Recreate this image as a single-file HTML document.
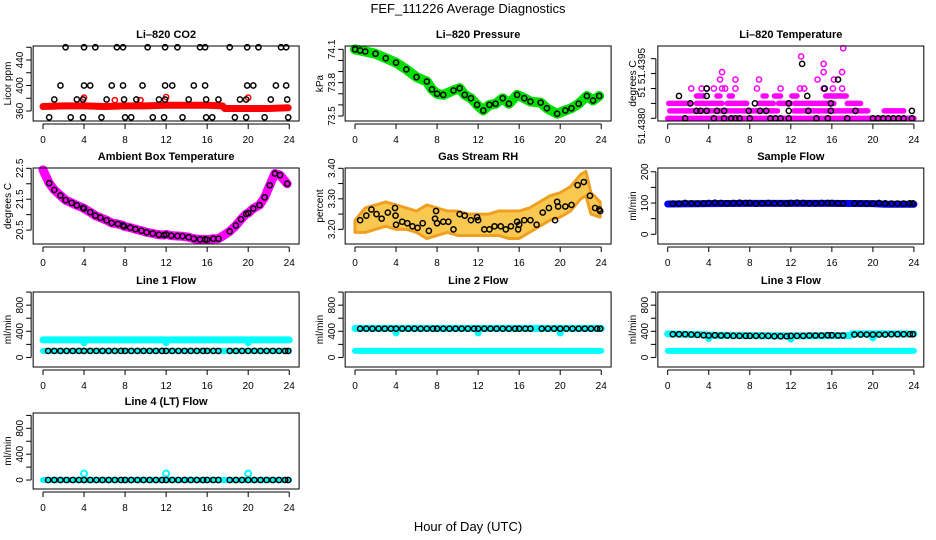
<!DOCTYPE html>
<html><head><meta charset="utf-8"><title>FEF_111226 Average Diagnostics</title>
<style>
html,body{margin:0;padding:0;background:#fff;}
svg{display:block;font-family:"Liberation Sans",sans-serif;}
</style></head>
<body>
<svg id="chart" width="936" height="540" viewBox="0 0 936 540">
<rect x="0" y="0" width="936" height="540" fill="#fff"/>
<text x="468" y="13" font-size="13" text-anchor="middle">FEF_111226  Average Diagnostics</text>
<text x="468" y="531" font-size="13" text-anchor="middle">Hour of Day (UTC)</text>
<text font-size="10" text-anchor="middle" transform="translate(645,66) rotate(-90)">51.4395</text>
<text font-size="10" text-anchor="middle" transform="translate(645,92) rotate(-90)">51</text>
<text font-size="10" text-anchor="middle" transform="translate(645,126) rotate(-90)">51.4380</text>
</svg>
<script>
// ---------- data ----------
const xTicks = [0,4,8,12,16,20,24];
// CO2
const co2BandHours = [0,2,4,6,8,10,12,14,16,17.5,17.7,20,22,23.9];
const co2BandVals  = [367,368,368,367,368,368,369,369,369,368,364,364,364,365];
const co2RedHours = [4,12,20,7.0,9.5];
const co2RedVals  = [381,382,381,377,377];
const co2BlackHours = [2.2,4.0,5.1,7.2,7.8,10.2,11.9,13.1,15.3,15.8,18.2,19.9,21.0,23.2,23.7,
  1.7,4.0,4.6,6.7,7.8,9.7,11.9,12.6,14.7,15.8,19.9,20.5,22.7,23.7,
  1.1,3.3,3.9,6.2,7.9,9.1,11.3,11.9,14.2,15.9,17.1,19.2,19.8,22.2,23.8,
  0.6,2.7,3.9,5.7,8.0,8.6,10.7,11.8,13.6,15.9,16.5,18.7,19.8,21.6,23.9];
const co2BlackVals = [460,460,460,460,460,460,460,460,460,460,460,460,460,460,460,
  400,400,400,400,400,400,400,400,400,400,400,400,400,400,
  378,378,378,378,378,378,378,378,378,378,378,378,378,378,378,
  350,350,350,350,350,350,350,350,350,350,350,350,350,350,350];
// Pressure
const presHours = [0,0.5,1,2,3,4,5,6,7,7.5,8,8.6,9.6,10.2,10.7,11.3,11.9,12.5,13.1,13.7,14.4,15,15.8,16.5,17.1,18.1,18.7,19.7,20.5,21.1,21.8,22.6,23.2,23.8];
const presVals  = [74.10,74.09,74.08,74.06,74.02,73.98,73.92,73.85,73.81,73.74,73.70,73.69,73.73,73.75,73.69,73.66,73.60,73.55,73.60,73.61,73.66,73.61,73.69,73.66,73.63,73.62,73.57,73.52,73.55,73.57,73.61,73.68,73.64,73.68];
// Temperature (levels)
const tempSegLevel = [0,1,1,1,2,2,2,2,2,2,2,2,3,3,3,3,3,3,3];
const tempSegStart = [0,0.2,12.3,21.1,0.1,2.8,5.8,8.9,10.8,12.4,14.7,17.5,2.8,4.8,6.0,9.3,10.4,12.1,15.4];
const tempSegEnd   = [24,10.7,19.5,23.0,2.3,5.3,7.7,10.3,12.0,14.6,16.2,18.8,3.5,5.1,6.3,9.6,11.0,12.6,17.4];
const tempMagHours = [2.3,3.3,3.8,4.5,5.3,5.6,6.6,8.7,11.0,12.9,13.3,15.2,16.1,17.0,5.1,6.6,8.9,14.6,16.2,5.3,15.2,17.0,15.2,13.0,17.1];
const tempMagLevel = [4,4,4,4,4,4,4,4,4,4,4,4,4,4,5.2,5.2,5.2,5.2,5.2,6.2,6.2,6.2,7.3,8.3,9.4];
const tempBlkHours = [1.7,4.5,5.5,6.2,6.6,7.0,8.0,10.0,10.5,11.0,11.8,14.5,15.6,17.5,20,20.5,21,21.5,22,22.5,23,23.8,
  2.8,3.2,3.8,4.8,5.5,7.9,9.0,9.6,11.8,13.7,15.9,18.3,23.8,2.2,8.5,11.8,15.9,1.1,3.8,13.6,3.8,15.3,16.6,13.1];
const tempBlkLevel = [0,0,0,0,0,0,0,0,0,0,0,0,0,0,0,0,0,0,0,0,0,0,
  1,1,1,1,1,1,1,1,1,1,1,1,1,2,2,2,2,3,3,3,4,4,5.2,7.3];
// Ambient
const ambHours = [0,0.6,1.1,1.7,2.2,2.8,3.3,3.9,4.0,4.6,5.1,5.6,6.2,6.7,7.3,7.8,7.9,8.5,9.0,9.6,10.1,10.7,11.3,11.8,12.0,12.5,13.1,13.6,14.2,14.7,15.3,15.8,16.0,16.6,17.1,18.2,18.8,19.3,19.8,20.0,20.5,21.1,21.6,22.1,22.6,23.1,23.8];
const ambVals  = [22.45,22.02,21.80,21.62,21.47,21.38,21.30,21.22,21.20,21.08,20.97,20.90,20.82,20.73,20.70,20.65,20.62,20.58,20.53,20.48,20.43,20.39,20.35,20.34,20.36,20.32,20.31,20.30,20.27,20.22,20.20,20.20,20.19,20.22,20.22,20.46,20.65,20.85,21.02,21.05,21.20,21.31,21.56,21.95,22.33,22.28,22.00];
// RH
const rhBandHours = [0,1,2,3,4,5,6,7,8,9,10,11,12,13,14,15,16,17,18,19,20,21,22,22.5,23,23.9];
const rhBandHi = [3.23,3.27,3.28,3.29,3.28,3.27,3.26,3.28,3.27,3.26,3.26,3.25,3.25,3.25,3.26,3.26,3.26,3.27,3.29,3.31,3.32,3.34,3.38,3.39,3.32,3.29];
const rhBandLo = [3.19,3.19,3.20,3.21,3.20,3.20,3.19,3.17,3.18,3.19,3.18,3.18,3.18,3.18,3.18,3.17,3.17,3.19,3.21,3.23,3.24,3.26,3.30,3.31,3.25,3.24];
const rhHours = [0.5,1.1,1.6,2.1,2.6,3.2,3.9,3.95,4.0,4.6,5.1,5.6,6.1,6.6,7.2,7.8,7.9,8.0,8.6,9.1,9.6,10.2,10.7,11.3,11.9,12.0,12.6,13.1,13.6,14.2,14.7,15.2,15.8,15.9,16.0,16.5,17.1,17.7,18.3,18.9,19.5,19.7,19.8,20.5,21.1,21.7,22.3,22.9,23.4,23.8,23.9];
const rhVals  = [3.23,3.245,3.265,3.25,3.235,3.255,3.27,3.245,3.215,3.225,3.22,3.21,3.205,3.22,3.195,3.235,3.26,3.22,3.225,3.225,3.20,3.25,3.245,3.23,3.24,3.23,3.20,3.20,3.21,3.21,3.20,3.21,3.225,3.20,3.215,3.23,3.23,3.215,3.255,3.27,3.23,3.29,3.275,3.275,3.28,3.345,3.355,3.31,3.27,3.265,3.26];
// Flows: black point hours shared
const flowHours = [0.5,1.1,1.7,2.3,2.9,3.5,4.0,4.6,5.2,5.8,6.4,7.0,7.6,8.0,8.6,9.2,9.8,10.4,11.0,11.6,12.0,12.6,13.2,13.8,14.4,15.0,15.6,16.0,16.6,17.1,18.2,18.8,19.4,20.0,20.6,21.2,21.8,22.4,23.0,23.6,23.9];
const sampleVals = [98,98,100,99,98,99,100,101,100,99,100,101,100,100,98,99,100,99,99,98,100,101,100,99,99,100,100,100,99,99,99,98,98,98,100,99,98,98,98,99,99];
const sampleBlueHours = [0,4,8,12,16,20,21.2,24];
const sampleBlueVals  = [97,98,99,99,99,98,96,96];
const line1BlackVals = [100,100,100,100,100,100,100,100,100,100,100,100,100,100,100,100,100,100,100,100,100,100,100,100,100,100,100,100,100,100,100,100,100,100,100,100,100,100,100,100,100];
const line1CyanHours = [0,3.9,4.0,4.1,11.9,12.0,12.1,19.9,20.0,20.1,24];
const line1CyanVals  = [268,268,226,268,268,226,268,268,226,268,268];
const line1LowHours = [0,24];
const line1LowVals  = [100,100];
const line2BlackVals = [440,440,440,440,440,440,440,440,440,440,440,440,440,440,440,440,440,440,440,440,440,440,440,440,440,440,440,440,440,440,440,440,440,440,440,440,440,440,440,440,440];
const line2CyanHours = [0,3.9,4.0,4.1,11.9,12.0,12.1,19.9,20.0,20.1,24];
const line2CyanVals  = [445,445,375,445,445,375,445,445,375,445,445];
const line2LowHours = [0,24];
const line2LowVals  = [100,100];
const line3BlackVals = [355,355,355,350,345,340,335,340,335,335,330,330,330,330,330,330,330,325,325,325,330,330,330,335,335,335,340,340,335,335,350,350,350,350,350,350,355,355,355,355,355];
const line3CyanHours = [0,3.9,4.0,4.1,11.9,12.0,12.1,17.8,18.0,19.9,20.0,20.1,24];
const line3CyanVals  = [360,345,290,340,330,280,330,335,360,360,300,360,360];
const line3LowHours = [0,24];
const line3LowVals  = [100,100];
const line4BlackVals = [0,0,0,0,0,0,0,0,0,0,0,0,0,0,0,0,0,0,0,0,0,0,0,0,0,0,0,0,0,0,0,0,0,0,0,0,0,0,0,0,0];
const line4CyanHours = [0,24];
const line4CyanVals  = [0,0];
const line4SpikeHours = [4,12,20];
const line4SpikeVals  = [100,100,100];

// ---------- drawing ----------
const NS = "http://www.w3.org/2000/svg";
const svg = document.getElementById("chart");
const colX0 = [43, 355, 667.7];
const PXH = 10.26;
const rowTop = [46, 168, 292, 413];
const rowBot = [121, 244, 367, 489];

function mk(tag, parent) { const e = document.createElementNS(NS, tag); parent.appendChild(e); return e; }

function makePanel(col, row, name, title, ylab, ymin, ymax, yTicks, yLabels) {
  const g = mk("g", svg);
  
  
  const x0 = colX0[col], top = rowTop[row], bot = rowBot[row];
  const xs = h => x0 + h * PXH;
  const ys = v => bot - (v - ymin) / (ymax - ymin) * (bot - top);
  const left = xs(-0.96), right = xs(24.96);
  const t = mk("text", g);
  
  
  t.setAttribute("x", (left + right) / 2); t.setAttribute("y", top - 8);
  t.setAttribute("font-size", "11"); t.setAttribute("font-weight", "bold"); t.setAttribute("text-anchor", "middle");
  t.textContent = title;
  const yl = mk("text", g);
  
  
  yl.setAttribute("font-size", "10"); yl.setAttribute("text-anchor", "middle");
  yl.setAttribute("transform", "translate(" + (left - 22) + "," + ((top + bot) / 2) + ") rotate(-90)");
  yl.textContent = ylab;
  const xa = mk("g", g);
  
  
  const ay = bot + 3;
  const xl = mk("line", xa);
  xl.setAttribute("x1", xs(0)); xl.setAttribute("x2", xs(24)); xl.setAttribute("y1", ay); xl.setAttribute("y2", ay);
  xl.setAttribute("stroke", "#000");
  xTicks.forEach(v => {
    const tk = mk("line", xa);
    tk.setAttribute("x1", xs(v)); tk.setAttribute("x2", xs(v)); tk.setAttribute("y1", ay); tk.setAttribute("y2", ay + 5);
    tk.setAttribute("stroke", "#000");
    const tl = mk("text", xa);
    
    
    tl.setAttribute("x", xs(v)); tl.setAttribute("y", bot + 22);
    tl.setAttribute("font-size", "10"); tl.setAttribute("text-anchor", "middle");
    tl.textContent = v;
  });
  const ya = mk("g", g);
  
  
  const ax = left - 2;
  const yln = mk("line", ya);
  yln.setAttribute("x1", ax); yln.setAttribute("x2", ax);
  yln.setAttribute("y1", ys(yTicks[0])); yln.setAttribute("y2", ys(yTicks[yTicks.length - 1]));
  yln.setAttribute("stroke", "#000");
  yTicks.forEach((v, i) => {
    const tk = mk("line", ya);
    tk.setAttribute("x1", ax - 5); tk.setAttribute("x2", ax); tk.setAttribute("y1", ys(v)); tk.setAttribute("y2", ys(v));
    tk.setAttribute("stroke", "#000");
    if (yLabels[i] !== "") {
      const tl = mk("text", ya);
      
      
      tl.setAttribute("font-size", "10"); tl.setAttribute("text-anchor", "middle");
      tl.setAttribute("transform", "translate(" + (ax - 8) + "," + ys(v) + ") rotate(-90)");
      tl.textContent = yLabels[i];
    }
  });
  const plot = mk("g", g);
  
  
  const box = mk("rect", g);
  
  
  box.setAttribute("x", left); box.setAttribute("y", top); box.setAttribute("width", right - left); box.setAttribute("height", bot - top);
  box.setAttribute("fill", "none"); box.setAttribute("stroke", "#000");
  return { g: plot, xs, ys };
}

function pts(p, hours, vals, color, name, r, sw) {
  hours.forEach((h, i) => {
    const c = mk("circle", p.g);
    
    
    c.setAttribute("cx", p.xs(h)); c.setAttribute("cy", p.ys(vals[i]));
    c.setAttribute("r", r || 2.6); c.setAttribute("fill", "none");
    c.setAttribute("stroke", color); c.setAttribute("stroke-width", sw || 1.5);
  });
}
function band(p, hours, vals, color, width, name) {
  const pl = mk("polyline", p.g);
  
  
  pl.setAttribute("points", hours.map((h, i) => p.xs(h) + "," + p.ys(vals[i])).join(" "));
  pl.setAttribute("fill", "none"); pl.setAttribute("stroke", color); pl.setAttribute("stroke-width", width);
  pl.setAttribute("stroke-linecap", "round"); pl.setAttribute("stroke-linejoin", "round");
}

let p = makePanel(0, 0, "co2", "Li\u2013820 CO2", "Licor ppm", 344.3, 462, [360,380,400,420,440,460], ["360","","400","","440",""]);
band(p, co2BandHours, co2BandVals, "#ff0000", 7, "co2-red-band");
pts(p, co2RedHours, co2RedVals, "#ff0000", "co2-red-point");
pts(p, co2BlackHours, co2BlackVals, "#000", "co2-black-point");

p = makePanel(1, 0, "pressure", "Li\u2013820 Pressure", "kPa", 73.455, 74.13, [73.5,73.6,73.7,73.8,73.9,74.0,74.1], ["73.5","","","73.8","","","74.1"]);
band(p, presHours, presVals, "#00e000", 10, "pressure-green-band");
pts(p, presHours, presVals, "#000", "pressure-black-point");

p = makePanel(2, 0, "li820-temp", "Li\u2013820 Temperature", "degrees C", -0.36, 9.7, [0,2,4,6,8], ["","","","",""]);
tempSegLevel.forEach((lv, i) => {
  const s = mk("line", p.g);
  
  
  s.setAttribute("x1", p.xs(tempSegStart[i])); s.setAttribute("x2", p.xs(tempSegEnd[i]));
  s.setAttribute("y1", p.ys(lv)); s.setAttribute("y2", p.ys(lv));
  s.setAttribute("stroke", "#ff00ff"); s.setAttribute("stroke-width", 5.5); s.setAttribute("stroke-linecap", "round");
});
pts(p, tempMagHours, tempMagLevel, "#ff00ff", "temp-magenta-point");
pts(p, tempBlkHours, tempBlkLevel, "#000", "temp-black-point");

p = makePanel(0, 1, "ambient", "Ambient Box Temperature", "degrees C", 20.05, 22.51, [20.5,21.0,21.5,22.0,22.5], ["20.5","","21.5","","22.5"]);
band(p, ambHours, ambVals, "#ff00ff", 9, "ambient-magenta-band");
pts(p, ambHours.slice(1), ambVals.slice(1), "#000", "ambient-black-point");

p = makePanel(1, 1, "rh", "Gas Stream RH", "percent", 3.152, 3.401, [3.20,3.25,3.30,3.35,3.40], ["3.20","","3.30","","3.40"]);
{
  const poly = mk("polygon", p.g);
  
  
  const up = rhBandHours.map((h, i) => p.xs(h) + "," + p.ys(rhBandHi[i]));
  const dn = rhBandHours.map((h, i) => p.xs(h) + "," + p.ys(rhBandLo[i])).reverse();
  poly.setAttribute("points", up.concat(dn).join(" "));
  poly.setAttribute("fill", "#f8c850"); poly.setAttribute("stroke", "#f0a020"); poly.setAttribute("stroke-width", 3);
  poly.setAttribute("stroke-linejoin", "round");
}
pts(p, rhHours, rhVals, "#000", "rh-black-point");

p = makePanel(2, 1, "sample-flow", "Sample Flow", "ml/min", -31, 212, [0,50,100,150,200], ["0","","100","","200"]);
band(p, sampleBlueHours, sampleBlueVals, "#0000ff", 7, "sample-blue-band");
pts(p, flowHours, sampleVals, "#000", "sample-black-point");

const flowTicks = [0,200,400,600,800,1000];
const flowLabels = ["0","","400","","800",""];
p = makePanel(0, 2, "line1", "Line 1 Flow", "ml/min", -146, 1001, flowTicks, flowLabels);
band(p, line1CyanHours, line1CyanVals, "#00ffff", 7, "line1-cyan-upper");
band(p, line1LowHours, line1LowVals, "#00ffff", 6, "line1-cyan-lower");
pts(p, flowHours, line1BlackVals, "#000", "line1-black-point");
p = makePanel(1, 2, "line2", "Line 2 Flow", "ml/min", -146, 1001, flowTicks, flowLabels);
band(p, line2CyanHours, line2CyanVals, "#00ffff", 7, "line2-cyan-upper");
band(p, line2LowHours, line2LowVals, "#00ffff", 6, "line2-cyan-lower");
pts(p, flowHours, line2BlackVals, "#000", "line2-black-point");
p = makePanel(2, 2, "line3", "Line 3 Flow", "ml/min", -146, 1001, flowTicks, flowLabels);
band(p, line3CyanHours, line3CyanVals, "#00ffff", 7, "line3-cyan-upper");
band(p, line3LowHours, line3LowVals, "#00ffff", 6, "line3-cyan-lower");
pts(p, flowHours, line3BlackVals, "#000", "line3-black-point");
p = makePanel(0, 3, "line4", "Line 4 (LT) Flow", "ml/min", -139, 1037, flowTicks, flowLabels);
band(p, line4CyanHours, line4CyanVals, "#00ffff", 6, "line4-cyan-band");
pts(p, line4SpikeHours, line4SpikeVals, "#00ffff", "line4-cyan-spike", 3, 2);
pts(p, flowHours, line4BlackVals, "#000", "line4-black-point");
</script>
</body></html>
